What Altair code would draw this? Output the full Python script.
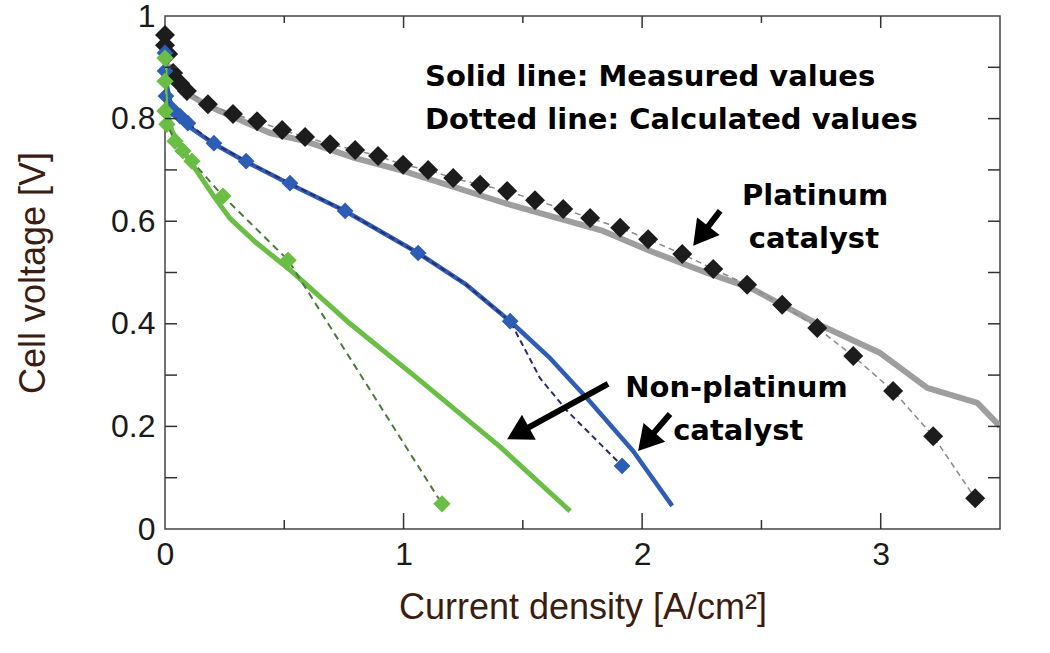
import math
import altair as alt
import pandas as pd

# ---- Polarization curves: current density [A/cm2] vs cell voltage [V] ----
# Platinum catalyst, measured (solid grey)
pt_meas_i = [0.0, 0.004, 0.042, 0.096, 0.189, 0.306, 0.440, 0.587, 0.797, 0.998,
             1.426, 1.836, 2.034, 2.273, 2.453, 2.579, 2.734, 2.998, 3.195, 3.405, 3.5]
pt_meas_v = [0.93, 0.908, 0.873, 0.848, 0.823, 0.799, 0.772, 0.756, 0.723, 0.698,
             0.635, 0.581, 0.542, 0.499, 0.470, 0.439, 0.400, 0.343, 0.275, 0.246, 0.20]

# Platinum catalyst, calculated (black diamonds on dashed line)
pt_calc_i = [0.0, 0.0, 0.013, 0.034, 0.063, 0.092, 0.180, 0.285, 0.386, 0.491, 0.587,
             0.692, 0.797, 0.893, 0.998, 1.103, 1.208, 1.321, 1.434, 1.551, 1.669,
             1.782, 1.908, 2.025, 2.168, 2.298, 2.440, 2.587, 2.734, 2.885, 3.052,
             3.220, 3.396]
pt_calc_v = [0.963, 0.943, 0.926, 0.889, 0.869, 0.854, 0.828, 0.809, 0.795, 0.778, 0.764,
             0.750, 0.739, 0.727, 0.710, 0.700, 0.684, 0.671, 0.659, 0.641, 0.624,
             0.606, 0.587, 0.565, 0.536, 0.507, 0.476, 0.437, 0.392, 0.337, 0.269,
             0.181, 0.060]

# Non-platinum catalyst A, measured (solid blue)
np1_meas_i = [0.0, 0.004, 0.021, 0.042, 0.096, 0.201, 0.335, 0.516, 0.755, 1.061,
              1.258, 1.447, 1.614, 1.769, 1.962, 2.126]
np1_meas_v = [0.935, 0.873, 0.834, 0.809, 0.786, 0.752, 0.717, 0.674, 0.620, 0.538,
              0.478, 0.405, 0.333, 0.255, 0.152, 0.045]

# Non-platinum catalyst A, calculated curve and its marked points
np1_calc_i = [0.0, 0.004, 0.029, 0.096, 0.205, 0.340, 0.524, 0.755, 1.061, 1.258,
              1.447, 1.572, 1.686, 1.824, 1.916]
np1_calc_v = [0.928, 0.844, 0.819, 0.791, 0.752, 0.717, 0.674, 0.620, 0.538, 0.478,
              0.405, 0.294, 0.230, 0.166, 0.123]
np1_mark_i = [0.0, 0.0, 0.004, 0.029, 0.063, 0.096, 0.205, 0.340, 0.524, 0.755,
              1.061, 1.447, 1.916]
np1_mark_v = [0.928, 0.893, 0.844, 0.819, 0.805, 0.791, 0.752, 0.717, 0.674, 0.620,
              0.538, 0.405, 0.123]

# Non-platinum catalyst B, measured (solid green)
np2_meas_i = [0.0, 0.0, 0.004, 0.029, 0.096, 0.210, 0.273, 0.377, 0.524, 0.776,
              1.057, 1.405, 1.698]
np2_meas_v = [0.918, 0.854, 0.821, 0.776, 0.723, 0.645, 0.605, 0.560, 0.505, 0.400,
              0.294, 0.160, 0.035]

# Non-platinum catalyst B, calculated (green diamonds on dashed line)
np2_calc_i = [0.0, 0.0, 0.0, 0.008, 0.042, 0.075, 0.113, 0.243, 0.516, 1.161]
np2_calc_v = [0.918, 0.873, 0.815, 0.789, 0.756, 0.737, 0.717, 0.649, 0.524, 0.049]

# Annotation arrows (tail -> tip)
arrow_tail_i = [2.327, 1.857, 2.117]
arrow_tail_v = [0.620, 0.283, 0.224]
arrow_tip_i = [2.214, 1.434, 1.983]
arrow_tip_v = [0.552, 0.175, 0.152]

# Annotation texts
legend_text = ["Solid line: Measured values", "Dotted line: Calculated values"]
legend_i = [1.09, 1.09]
legend_v = [0.881, 0.797]
pt_label = ["Platinum", "catalyst"]
pt_label_i = [2.725, 2.72]
pt_label_v = [0.649, 0.565]
np_label = ["Non-platinum", "catalyst"]
np_label_i = [1.929, 2.13]
np_label_v = [0.275, 0.191]

# Axis ticks
x_major = [1, 2, 3]
x_minor = [0.5, 1.5, 2.5]
y_minor = [0.1, 0.2, 0.3, 0.4, 0.5, 0.6, 0.7, 0.8, 0.9]

W, H = 835, 513
X_MAX, Y_MAX = 3.5, 1.0
PX_I = W / X_MAX
PX_V = H / Y_MAX

xs = alt.Scale(domain=[0, X_MAX], nice=False)
ys = alt.Scale(domain=[0, Y_MAX], nice=False)

X_AXIS = alt.Axis(values=[0, 1, 2, 3], format="~g", ticks=False, domain=False,
                  grid=False, labelFontSize=32, labelPadding=10, labelColor="#1a1a1a",
                  labelFont="Liberation Sans", labelFlush=False,
                  title="Current density [A/cm²]",
                  titleFontSize=36, titleFont="Liberation Sans", titleFontWeight="normal",
                  titleColor="#3b1d12", titlePadding=20)
Y_AXIS = alt.Axis(values=[0, 0.2, 0.4, 0.6, 0.8, 1], format="~g", ticks=False,
                  domain=False, grid=False, labelFontSize=32, labelPadding=10,
                  labelColor="#1a1a1a", labelFont="Liberation Sans", labelFlush=False,
                  title="Cell voltage [V]", titleFontSize=36, titleFont="Liberation Sans",
                  titleFontWeight="normal", titleColor="#3b1d12", titlePadding=58)


def frame(i, v, **extra):
    d = {"i": i, "v": v, "idx": list(range(len(i)))}
    d.update(extra)
    return pd.DataFrame(d)


def enc_xy():
    return dict(
        x=alt.X("i:Q", scale=xs, axis=X_AXIS),
        y=alt.Y("v:Q", scale=ys, axis=Y_AXIS),
    )


def curve(i, v, color, width, dash=None):
    kw = dict(color=color, strokeWidth=width, clip=True, strokeJoin="round")
    if dash:
        kw["strokeDash"] = dash
    return alt.Chart(frame(i, v)).mark_line(**kw).encode(order="idx:Q", **enc_xy())


def markers(i, v, color, size):
    return alt.Chart(frame(i, v)).mark_point(
        shape="diamond", filled=True, opacity=1, color=color, size=size
    ).encode(**enc_xy())


layers = [
    curve(pt_meas_i, pt_meas_v, "#9e9e9e", 6),
    curve(pt_calc_i, pt_calc_v, "#8a8a8a", 1.5, dash=[6, 4]),
    markers(pt_calc_i, pt_calc_v, "#1c1c1c", 400),
    curve(np1_meas_i, np1_meas_v, "#2d5db5", 4.5),
    curve(np1_calc_i, np1_calc_v, "#2b2b6b", 2, dash=[6, 4]),
    markers(np1_mark_i, np1_mark_v, "#2d5db5", 280),
    curve(np2_meas_i, np2_meas_v, "#6abd45", 5),
    curve(np2_calc_i, np2_calc_v, "#4a7a3a", 2, dash=[7, 5]),
    markers(np2_calc_i, np2_calc_v, "#6abd45", 300),
]

# Arrows: shaft stops short of the tip; a rotated triangle forms the head
HEAD = 820
r = math.sqrt(HEAD) / 2
h = math.sqrt(3) / 2 * r
rows_shaft, rows_head = [], []
for ti, tv, pi, pv in zip(arrow_tail_i, arrow_tail_v, arrow_tip_i, arrow_tip_v):
    dx = (pi - ti) * PX_I
    dy = -(pv - tv) * PX_V
    L = math.hypot(dx, dy)
    ux, uy = dx / L, dy / L
    end_i = pi - ux * h * 1.4 / PX_I
    end_v = pv + uy * h * 1.4 / PX_V
    rows_shaft.append({"i": ti, "v": tv, "i2": end_i, "v2": end_v})
    ang = math.degrees(math.atan2(ux, -uy)) % 360
    rows_head.append({"i": pi - ux * h / PX_I, "v": pv + uy * h / PX_V, "ang": ang})

layers.append(
    alt.Chart(pd.DataFrame(rows_shaft)).mark_rule(
        color="black", strokeWidth=6, strokeCap="butt"
    ).encode(x=alt.X("i:Q", scale=xs, axis=X_AXIS), y=alt.Y("v:Q", scale=ys, axis=Y_AXIS),
             x2="i2:Q", y2="v2:Q")
)
layers.append(
    alt.Chart(pd.DataFrame(rows_head)).mark_point(
        shape="triangle-up", filled=True, opacity=1, color="black", size=HEAD
    ).encode(angle=alt.Angle("ang:Q", scale=None), **enc_xy())
)


def texts(labels, i, v, align):
    return alt.Chart(pd.DataFrame({"t": labels, "i": i, "v": v})).mark_text(
        font="DejaVu Sans", fontWeight="bold", fontSize=29, color="black",
        align=align, baseline="middle"
    ).encode(text="t:N", **enc_xy())


layers += [
    texts(legend_text, legend_i, legend_v, "left"),
    texts(pt_label, pt_label_i, pt_label_v, "center"),
    texts(np_label, np_label_i, np_label_v, "left"),
]


# Inward-pointing ticks on all four sides of the frame
def xticks(vals, length, top):
    y0 = 0 if top else H
    y1 = length if top else H - length
    return alt.Chart(pd.DataFrame({"i": vals})).mark_rule(
        color="#333333", strokeWidth=1.5
    ).encode(x=alt.X("i:Q", scale=xs, axis=X_AXIS), y=alt.value(y0), y2=alt.value(y1))


def yticks(vals, length, right):
    x0 = W if right else 0
    x1 = W - length if right else length
    return alt.Chart(pd.DataFrame({"v": vals})).mark_rule(
        color="#333333", strokeWidth=1.5
    ).encode(y=alt.Y("v:Q", scale=ys, axis=Y_AXIS), x=alt.value(x0), x2=alt.value(x1))


layers += [
    xticks(x_major, 16, False), xticks(x_minor, 9, False),
    xticks(x_major, 12, True), xticks(x_minor, 7, True),
    yticks(y_minor, 12, False), yticks(y_minor, 12, True),
]

chart = alt.layer(*layers).properties(
    width=W, height=H,
    padding={"left": 165, "top": 16, "right": 50, "bottom": 124},
    autosize=alt.AutoSizeParams(type="none"),
    background="white",
).configure_view(stroke="#444444", strokeWidth=1.5)

chart.save("out.html", embed_options={"renderer": "svg", "actions": False})
